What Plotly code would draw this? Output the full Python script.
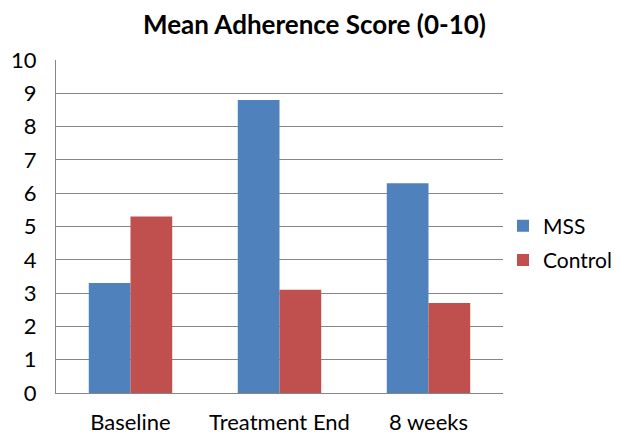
import plotly.graph_objects as go

categories = ["Baseline", "Treatment End", "8 weeks"]
mss = [3.3, 8.8, 6.3]
control = [5.3, 3.1, 2.7]
y_ticks = list(range(0, 11))

FONT = "Lato, Open Sans, sans-serif"

fig = go.Figure()
fig.add_trace(go.Bar(name="MSS", x=categories, y=mss, legendgroup="a",
                     marker=dict(color="#4F81BD", line=dict(width=0))))
fig.add_trace(go.Bar(name="Control", x=categories, y=control, legendgroup="b",
                     marker=dict(color="#C0504D", line=dict(width=0))))

fig.update_layout(
    width=613, height=429,
    margin=dict(l=48, r=118, t=52, b=44, autoexpand=False),
    paper_bgcolor="white", plot_bgcolor="white",
    barmode="group", bargap=0.44, bargroupgap=0,
    font=dict(family=FONT, size=22, color="black"),
    title=dict(text="<b>Mean Adherence Score (0-10)</b>", x=0.5, xanchor="center",
               y=0.96, yanchor="middle", font=dict(size=26, family=FONT)),
    legend=dict(x=1.0, xanchor="left", y=0.45, yanchor="middle",
                font=dict(size=21), tracegroupgap=4, itemwidth=30),
    showlegend=True,
)
fig.update_xaxes(showline=True, linecolor="#868686", linewidth=1, showgrid=False,
                 ticks="", tickfont=dict(size=22), automargin=False, ticklabelstandoff=10)
fig.update_yaxes(range=[0, 10], tickvals=y_ticks, showgrid=True, gridcolor="#868686",
                 gridwidth=1, showline=True, linecolor="#868686", linewidth=1,
                 ticks="", ticklabelstandoff=14, zeroline=False, tickfont=dict(size=22),
                 automargin=False)

fig.write_html("out.html")
